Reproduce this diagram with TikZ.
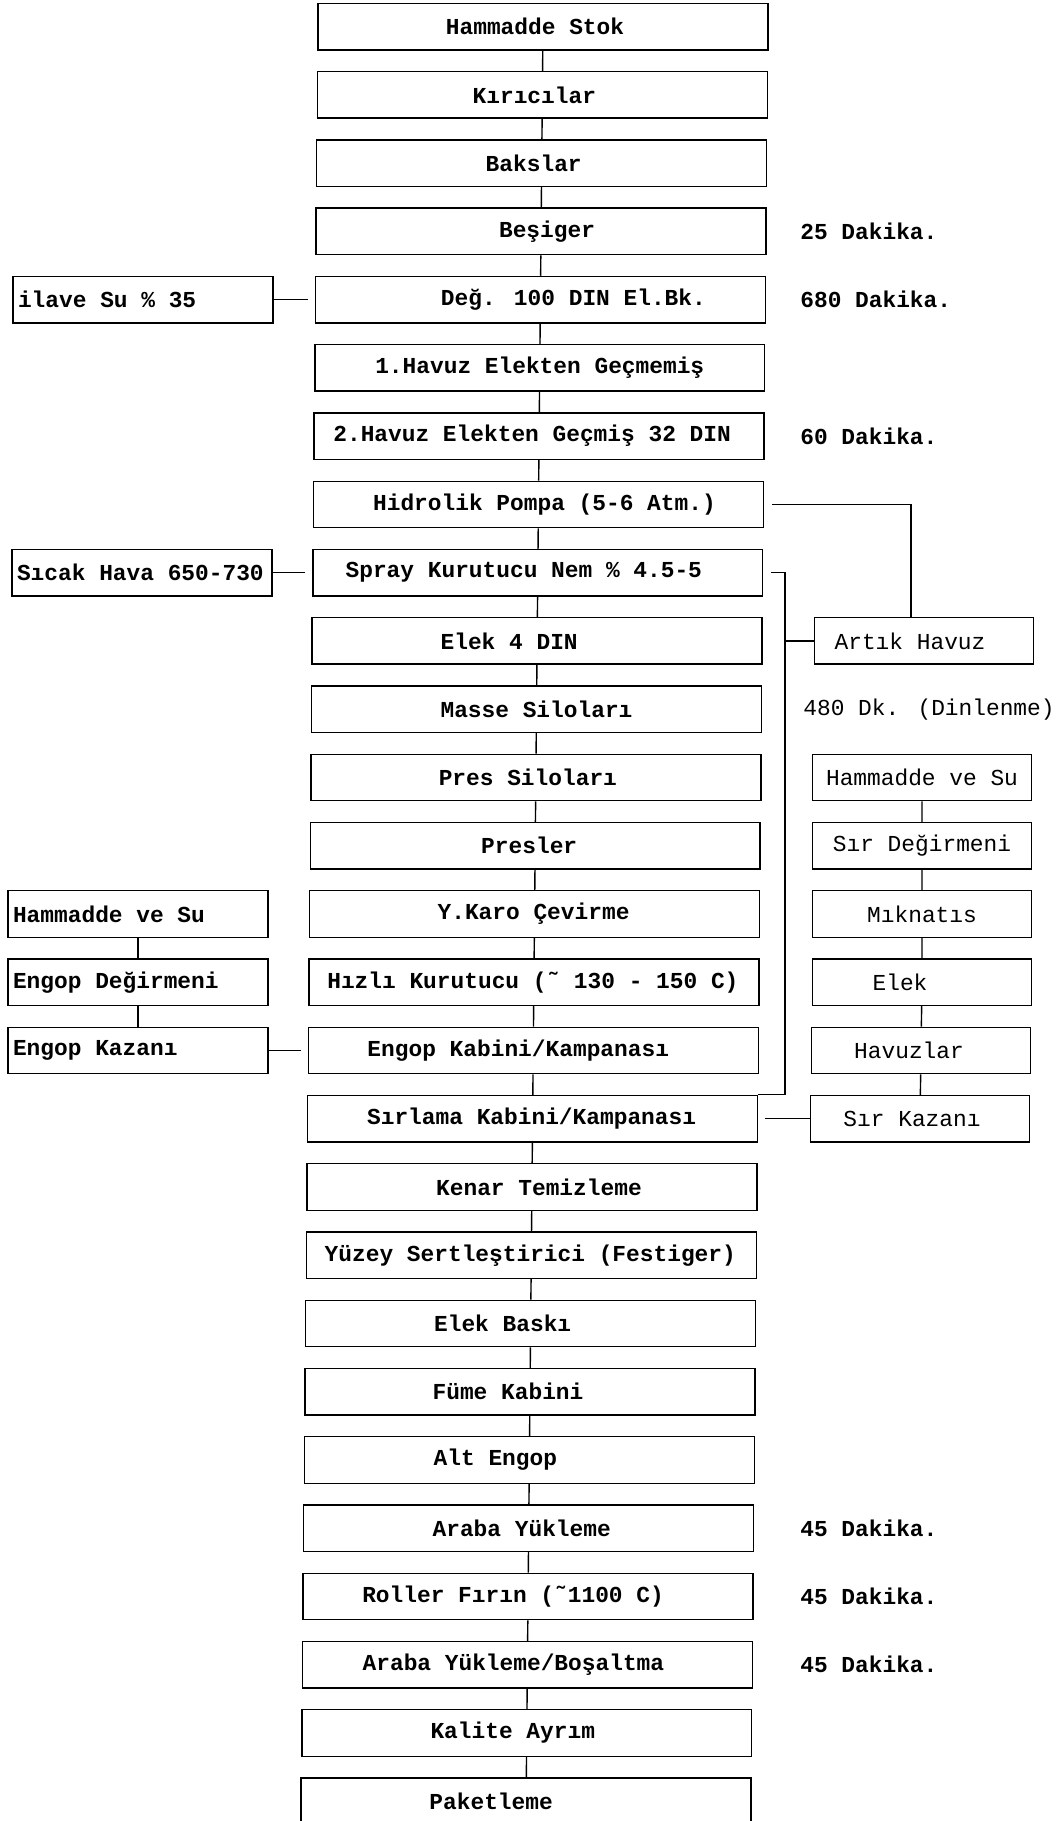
\documentclass[tikz,border=0pt]{standalone}
\usepackage{fontspec}
\newfontfamily\printfont{Liberation Mono}
\usepackage{tikz}

\newcommand{\lefttext}[1]{\makebox[5cm][l]{#1}}

\tikzset{
  boldtext/.style={font=\printfont\bfseries\fontsize{13}{15}\selectfont},
  mbox/.style={draw, line width=0.8pt, minimum width=9cm, minimum height=0.93cm, inner sep=0pt, boldtext},
  lbox/.style={mbox, minimum width=5.2cm},
  rbox/.style={draw, line width=0.8pt, minimum width=4.38cm, minimum height=0.93cm, inner sep=0pt},
  note/.style={anchor=west, inner sep=0pt},
  link/.style={line width=0.8pt},
}

\begin{document}
\begin{tikzpicture}[x=0.02cm, y=-0.02cm, font=\printfont\fontsize{13}{15}\selectfont]
    \useasboundingbox (0,0) rectangle (1059,1821);
    \clip (0,0) rectangle (1059,1821);
    % Main line (shift of the text in mm)
    \foreach \dx/\txt [count=\i from 0] in {-3.2/Hammadde Stok, -3.2/Kırıcılar, -3.2/Bakslar,
      2.4/Beşiger, 13.2/Değ. 100 DIN El.Bk., 0/1.Havuz Elekten Geçmemiş,
      -2.8/2.Havuz Elekten Geçmiş 32 DIN, 2.4/Hidrolik Pompa (5-6 Atm.),
      -5.6/Spray Kurutucu Nem \% 4.5-5, -11.2/Elek 4 DIN, 0/Masse Siloları,
      -3.2/Pres Siloları, -2.4/Presler, -0.4/Y.Karo Çevirme,
      -0.4/Hızlı Kurutucu (˜ 130 - 150 C), -6/{Engop Kabini/Kampanası},
      -0.4/{Sırlama Kabini/Kampanası}, 2.8/Kenar Temizleme,
      -0.4/Yüzey Sertleştirici (Festiger), -11.2/Elek Baskı, -8.8/Füme Kabini,
      -13.6/Alt Engop, -2.8/Araba Yükleme, -6/Roller Fırın (˜1100 C),
      -5.6/{Araba Yükleme/Boşaltma}, -5.6/Kalite Ayrım, -14/Paketleme}
      \node[mbox] (m\i) at ({543-0.65*\i},{26.7+68.25*\i}) {\hspace*{\dx mm}\txt};
    \foreach \i [evaluate=\i as \j using int(\i-1)] in {1,...,26}
      \draw[link] (m\j) -- (m\i);
    % Times
    \foreach \r/\lab in {3/25 Dakika., 4/680 Dakika., 6/60 Dakika.,
      22/45 Dakika., 23/45 Dakika., 24/45 Dakika.}
      \node[note, boldtext] (t\r) at (800,0 |- m\r) {\lab};
    \node[note] (dinl) at (803,0 |- m10) {480 Dk. (Dinlenme)};
    % Left feeds
    \node[lbox] (ilave) at (143,0 |- m4) {\lefttext{ilave Su \% 35}};
    \node[lbox] (sicak) at (142,0 |- m8) {\lefttext{Sıcak Hava 650-730}};
    \node[lbox] (ehs) at (138,0 |- m13) {\lefttext{Hammadde ve Su}};
    \node[lbox] (edeg) at (138,0 |- m14) {\lefttext{Engop Değirmeni}};
    \node[lbox] (ekaz) at (138,0 |- m15) {\lefttext{Engop Kazanı}};
    \draw[link, shorten >=0.14cm] (ilave) -- (m4);
    \draw[link, shorten >=0.14cm] (sicak) -- (m8);
    \draw[link] (ehs) -- (edeg) -- (ekaz);
    \draw[link, shorten >=0.14cm] (ekaz) -- (m15);
    % Right side: waste pool
    \node[rbox] (artik) at (924,0 |- m9) {\hspace*{-5.6mm}Artık Havuz};
    \coordinate (bus) at (785,0);
    \draw[link, shorten <=0.16cm] (m7.east) -| ([xshift=-0.26cm]artik.north);
    \draw[link, shorten <=0.16cm] (m8.east) -- (bus |- m8) -- (bus |- m16.north) -- (m16.north east);
    \draw[link] (bus |- artik) -- (artik);
    % Right side: glaze line
    \node[rbox] (shs) at (922,0 |- m11) {Hammadde ve Su};
    \node[rbox] (sdeg) at (922,0 |- m12) {Sır Değirmeni};
    \node[rbox] (smik) at (922,0 |- m13) {Mıknatıs};
    \node[rbox] (selek) at (922,0 |- m14) {\hspace*{-8.8mm}Elek};
    \node[rbox] (shav) at (921,0 |- m15) {\hspace*{-4.8mm}Havuzlar};
    \node[rbox] (skaz) at (920,0 |- m16) {\hspace*{-3.2mm}Sır Kazanı};
    \draw[link] (shs) -- (sdeg) -- (smik) -- (selek) -- (shav) -- (skaz);
    \draw[link, shorten >=0.14cm] (skaz) -- (m16);
\end{tikzpicture}
\end{document}
